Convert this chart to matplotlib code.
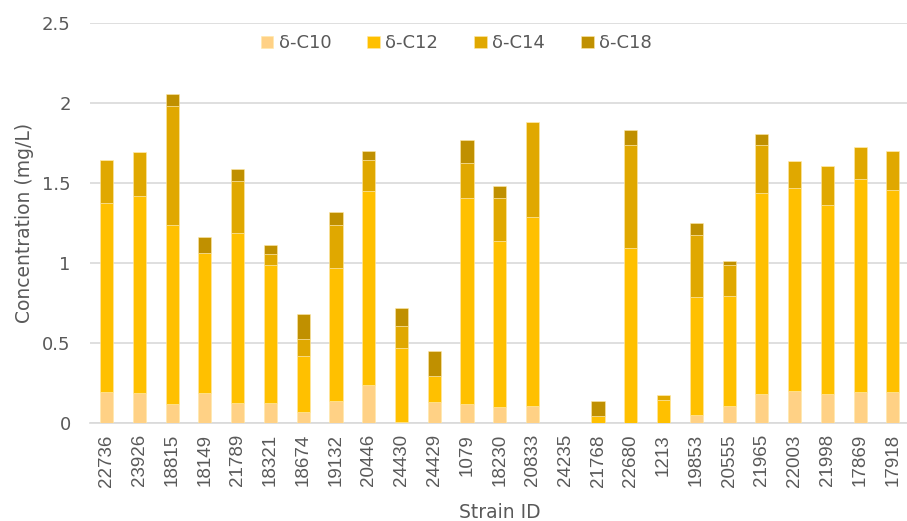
import numpy as np
import matplotlib.pyplot as plt

# Strain IDs and concentrations (mg/L) per lactone
strains = ['22736', '23926', '18815', '18149', '21789', '18321', '18674', '19132',
           '20446', '24430', '24429', '1079', '18230', '20833', '24235', '21768',
           '22680', '1213', '19853', '20555', '21965', '22003', '21998', '17869', '17918']
c10 = [0.194, 0.185, 0.121, 0.19, 0.125, 0.125, 0.069, 0.1375, 0.24, 0.005, 0.133, 0.117,
       0.1, 0.106, 0, 0, 0, 0, 0.052, 0.106, 0.183, 0.2, 0.183, 0.194, 0.194]
c12 = [1.181, 1.234, 1.116, 0.872, 1.0625, 0.865, 0.35, 0.83, 1.21, 0.462, 0.159, 1.289,
       1.04, 1.18, 0, 0.044, 1.092, 0.144, 0.736, 0.688, 1.252, 1.267, 1.18, 1.331, 1.262]
c14 = [0.269, 0.275, 0.744, 0, 0.325, 0.066, 0.108, 0.27, 0.194, 0.139, 0, 0.217,
       0.264, 0.594, 0, 0, 0.643, 0.033, 0.3875, 0.191, 0.30, 0.17, 0.24, 0.2, 0.242]
c18 = [0, 0, 0.073, 0.10, 0.0725, 0.059, 0.154, 0.083, 0.056, 0.113, 0.158, 0.146,
       0.075, 0, 0, 0.094, 0.098, 0, 0.077, 0.0275, 0.071, 0, 0, 0, 0]

series = [('δ-C10', c10, '#FFD185'), ('δ-C12', c12, '#FFC000'),
          ('δ-C14', c14, '#E0A800'), ('δ-C18', c18, '#C09000')]

fig = plt.figure(figsize=(9.07, 5.21), dpi=100)
ax = fig.add_axes([0.0995, 0.188, 0.903, 0.768])

x = np.arange(len(strains))
bottom = np.zeros(len(strains))
for name, vals, col in series:
    vals = np.array(vals)
    ax.bar(x, vals, 0.4, bottom=bottom, color=col, label=name,
           edgecolor='#FFE9A8', linewidth=0.4, zorder=3)
    bottom += vals

ax.set_xlim(-0.5, len(strains) - 0.5)
ax.set_ylim(0, 2.5)
ax.set_yticks([0, 0.5, 1, 1.5, 2, 2.5])
ax.set_yticklabels(['0', '0.5', '1', '1.5', '2', '2.5'])
ax.set_xticks(x)
ax.set_xticklabels(strains, rotation=90, fontsize=13.5, color='#595959',
                   family='Liberation Sans')
ax.tick_params(axis='y', labelsize=13, labelcolor='#595959', length=0, pad=14)
ax.tick_params(axis='x', length=0, pad=8)

ax.grid(axis='y', color='#D9D9D9', linewidth=1.2, zorder=0)
for s in ['top', 'right', 'left']:
    ax.spines[s].set_visible(False)
ax.spines['bottom'].set_color('#D9D9D9')
ax.spines['bottom'].set_linewidth(1.2)

ax.set_xlabel('Strain ID', fontsize=13.5, color='#595959', labelpad=12)
ax.set_ylabel('Concentration (mg/L)', fontsize=13.5, color='#595959', labelpad=6)

ax.legend(loc='upper center', bbox_to_anchor=(0.447, 1.012), ncol=4, frameon=False,
          fontsize=13, labelcolor='#595959', handlelength=0.7, handleheight=0.7,
          handletextpad=0.3, columnspacing=2.0)

fig.savefig('out.png', dpi=100)
